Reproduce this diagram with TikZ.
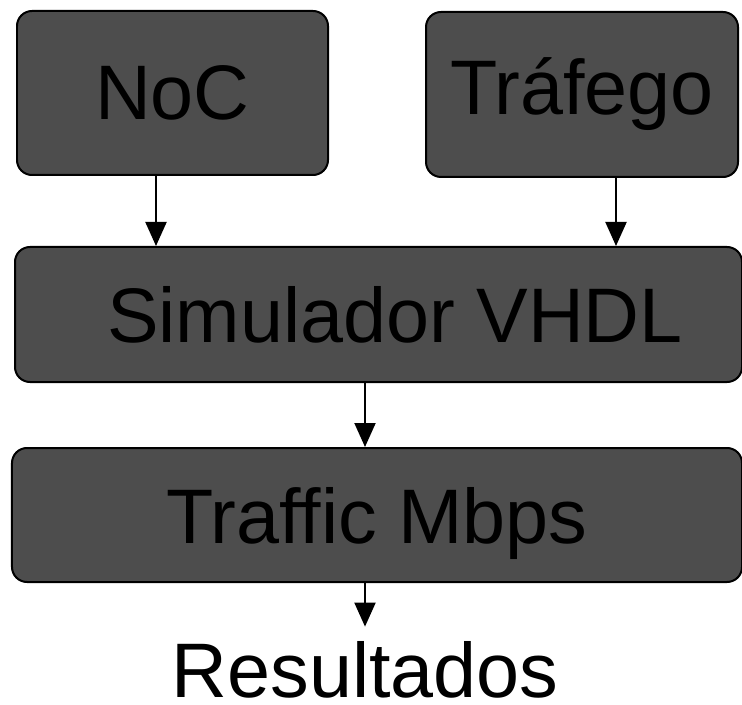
\documentclass[tikz,border=0pt]{standalone}
\usepackage{fontspec}
\setmainfont{Liberation Sans}
\usetikzlibrary{arrows.meta}
\definecolor{boxgray}{HTML}{4D4D4D}

\begin{document}
\begin{tikzpicture}[>={Triangle[length=0.48cm,width=0.42cm]},
  font=\fontsize{44}{52}\selectfont,
  blk/.style={draw=black,line width=0.04cm,fill=boxgray,rounded corners=0.3cm,inner sep=0pt},
  flow/.style={->,line width=0.04cm}]
\useasboundingbox (0,0) rectangle (14.84,14.08);
% input blocks
\node[blk,minimum width=6.22cm,minimum height=3.28cm] (noc) at (3.45,12.22) {NoC};
\node[blk,minimum width=6.24cm,minimum height=3.30cm] (traf) at (11.64,12.19) {Tráfego};
% simulator and traffic measurement
\node[blk,minimum width=14.54cm,minimum height=2.70cm] (sim) at (7.57,7.79) {\hspace{0.66cm}Simulador VHDL};
\node[blk,minimum width=14.60cm,minimum height=2.68cm,text depth=0pt] (mbps) at (7.54,3.78) {Traffic Mbps};
\node[anchor=base,inner sep=0pt,text depth=0pt] (res) at (7.30,0.14) {Resultados};
% connectors
\draw[flow] ([xshift=-0.33cm]noc.south) -- ([xshift=-0.33cm]noc.south |- sim.north);
\draw[flow] ([xshift=0.68cm]traf.south) -- ([xshift=0.68cm]traf.south |- sim.north);
\draw[flow] (sim.south -| res.north) -- (mbps.north -| res.north);
\draw[flow,shorten >=0.28cm] (mbps.south -| res.north) -- (res.north);
\end{tikzpicture}
\end{document}
